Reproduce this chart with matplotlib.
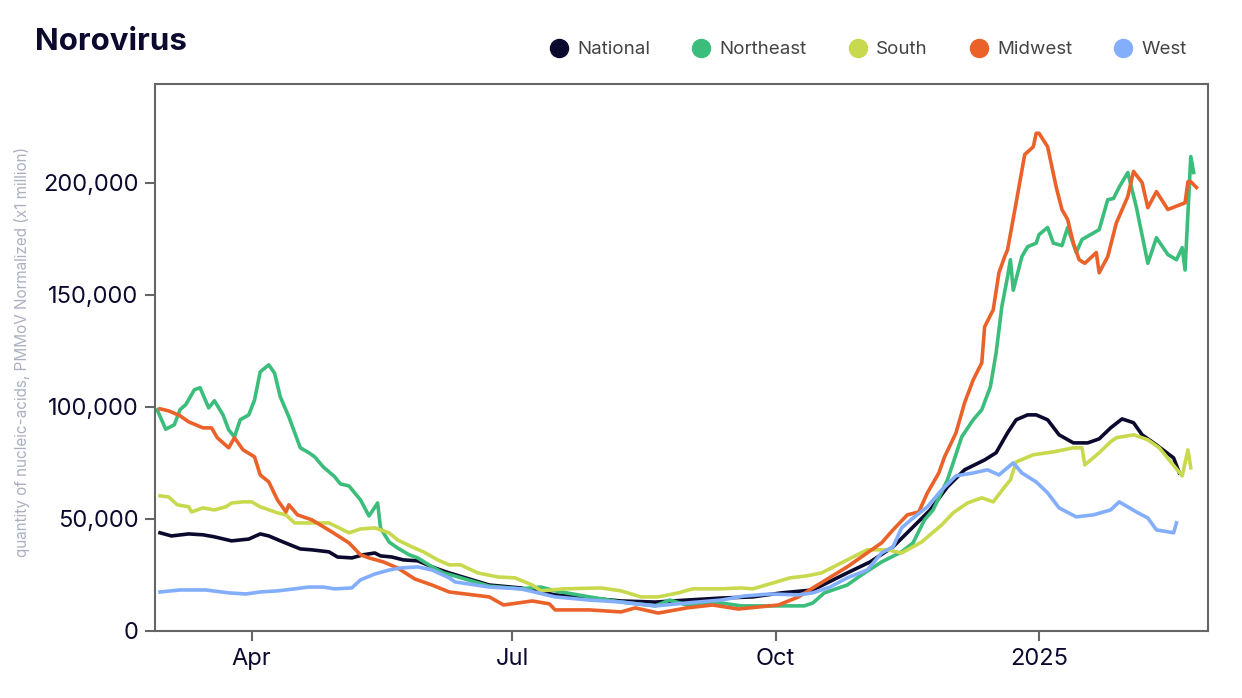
import matplotlib
matplotlib.use("Agg")
import matplotlib.pyplot as plt
import matplotlib.dates as mdates
from matplotlib.lines import Line2D
from matplotlib.ticker import FuncFormatter
import pandas as pd

# values
national_dates = ["2024-02-29", "2024-03-04", "2024-03-10", "2024-03-15", "2024-03-19", "2024-03-25",
                  "2024-03-31", "2024-04-04", "2024-04-07", "2024-04-12", "2024-04-18", "2024-04-22",
                  "2024-04-28", "2024-05-01", "2024-05-06", "2024-05-10", "2024-05-14", "2024-05-16",
                  "2024-05-20", "2024-05-24", "2024-05-29", "2024-06-04", "2024-06-09", "2024-06-23",
                  "2024-07-04", "2024-07-16", "2024-07-28", "2024-08-08", "2024-08-20", "2024-08-31",
                  "2024-09-12", "2024-09-23", "2024-10-03", "2024-10-14", "2024-10-26", "2024-11-03",
                  "2024-11-11", "2024-11-18", "2024-11-24", "2024-11-30", "2024-12-06", "2024-12-13",
                  "2024-12-17", "2024-12-21", "2024-12-24", "2024-12-28", "2024-12-31", "2025-01-04",
                  "2025-01-08", "2025-01-13", "2025-01-18", "2025-01-22", "2025-01-26", "2025-01-30",
                  "2025-02-03", "2025-02-06", "2025-02-11", "2025-02-17", "2025-02-19"]
national = [43800, 42400, 43300, 42900, 42000, 40200, 41000, 43300, 42400, 39700, 36600, 36200,
            35300, 33000, 32600, 34000, 34800, 33500, 33000, 31700, 31300, 28100, 25900, 20500,
            19200, 16100, 14700, 13400, 12900, 13800, 14700, 15200, 17000, 18300, 25900, 30800,
            37500, 46400, 54000, 64300, 71900, 76300, 79500, 88400, 94200, 96400, 96400, 94200,
            87500, 83900, 83900, 85700, 90600, 94600, 92900, 87500, 83000, 77200, 70500]

northeast_dates = ["2024-02-28", "2024-03-02", "2024-03-05", "2024-03-07", "2024-03-09", "2024-03-12",
                   "2024-03-14", "2024-03-17", "2024-03-19", "2024-03-22", "2024-03-24", "2024-03-26",
                   "2024-03-28", "2024-03-31", "2024-04-02", "2024-04-04", "2024-04-07", "2024-04-09",
                   "2024-04-11", "2024-04-14", "2024-04-18", "2024-04-21", "2024-04-23", "2024-04-26",
                   "2024-04-30", "2024-05-02", "2024-05-05", "2024-05-09", "2024-05-12", "2024-05-15",
                   "2024-05-16", "2024-05-19", "2024-05-22", "2024-05-26", "2024-05-29", "2024-06-03",
                   "2024-06-07", "2024-06-11", "2024-06-23", "2024-07-04", "2024-07-11", "2024-07-16",
                   "2024-07-28", "2024-08-08", "2024-08-20", "2024-08-25", "2024-08-31", "2024-09-12",
                   "2024-09-19", "2024-09-29", "2024-10-11", "2024-10-14", "2024-10-18", "2024-10-26",
                   "2024-10-31", "2024-11-07", "2024-11-14", "2024-11-18", "2024-11-22", "2024-11-25",
                   "2024-11-30", "2024-12-02", "2024-12-05", "2024-12-09", "2024-12-12", "2024-12-15",
                   "2024-12-17", "2024-12-19", "2024-12-21", "2024-12-22", "2024-12-23", "2024-12-26",
                   "2024-12-28", "2024-12-31", "2025-01-01", "2025-01-04", "2025-01-06", "2025-01-09",
                   "2025-01-11", "2025-01-14", "2025-01-16", "2025-01-22", "2025-01-25", "2025-01-27",
                   "2025-01-29", "2025-02-01", "2025-02-04", "2025-02-08", "2025-02-11", "2025-02-15",
                   "2025-02-18", "2025-02-20", "2025-02-21", "2025-02-23", "2025-02-24"]
northeast = [98700, 90000, 92000, 98700, 101000, 107600, 108500, 99500, 102700, 96400, 89700, 86600,
             94200, 96400, 103000, 115600, 118700, 115000, 104500, 95500, 81700, 79500, 77700, 73200,
             68800, 65600, 64700, 58500, 51300, 57100, 46000, 39700, 37000, 34000, 32600, 28600,
             25900, 24500, 20000, 18800, 19600, 17900, 15200, 12900, 11200, 13800, 11600, 12500,
             11200, 11200, 11200, 12500, 17000, 20500, 25000, 30800, 35300, 39300, 49600, 54000,
             67400, 75000, 86600, 94200, 98700, 108900, 124000, 144600, 158000, 165600, 152000, 167000,
             171400, 173000, 176800, 180000, 173000, 171900, 180000, 168800, 174600, 179000, 192400, 192900,
             198000, 204500, 189000, 164000, 175400, 167900, 165600, 171000, 161000, 211600, 204500]

south_dates = ["2024-02-29", "2024-03-03", "2024-03-06", "2024-03-10", "2024-03-11", "2024-03-15",
               "2024-03-19", "2024-03-23", "2024-03-25", "2024-03-29", "2024-04-01", "2024-04-04",
               "2024-04-10", "2024-04-13", "2024-04-16", "2024-04-21", "2024-04-28", "2024-05-05",
               "2024-05-09", "2024-05-14", "2024-05-19", "2024-05-22", "2024-05-27", "2024-05-31",
               "2024-06-05", "2024-06-09", "2024-06-13", "2024-06-19", "2024-06-26", "2024-07-02",
               "2024-07-08", "2024-07-11", "2024-07-19", "2024-08-01", "2024-08-08", "2024-08-15",
               "2024-08-21", "2024-08-28", "2024-09-02", "2024-09-12", "2024-09-19", "2024-09-23",
               "2024-09-30", "2024-10-06", "2024-10-12", "2024-10-17", "2024-10-26", "2024-11-02",
               "2024-11-09", "2024-11-14", "2024-11-21", "2024-11-28", "2024-12-02", "2024-12-07",
               "2024-12-12", "2024-12-16", "2024-12-20", "2024-12-22", "2024-12-24", "2024-12-30",
               "2025-01-06", "2025-01-13", "2025-01-16", "2025-01-17", "2025-01-22", "2025-01-26",
               "2025-01-28", "2025-02-03", "2025-02-08", "2025-02-12", "2025-02-16", "2025-02-20",
               "2025-02-22", "2025-02-23"]
south = [60300, 59800, 56300, 55400, 53100, 54900, 54000, 55400, 57100, 57600, 57600, 55400,
         52700, 51800, 48200, 48200, 48200, 43800, 45500, 46000, 43800, 40600, 37500, 35300,
         31700, 29500, 29500, 25900, 24100, 23700, 20500, 17900, 18800, 19200, 17900, 15200,
         15200, 17000, 18800, 18800, 19200, 18800, 21400, 23700, 24600, 25900, 31700, 36200,
         36200, 34800, 39700, 47300, 52700, 57100, 59400, 57600, 64300, 67400, 75400, 78600,
         79900, 81700, 81700, 74100, 79500, 84400, 86200, 87500, 85300, 81700, 75400, 69200,
         80800, 72800]

midwest_dates = ["2024-02-29", "2024-03-03", "2024-03-07", "2024-03-10", "2024-03-15", "2024-03-18",
                 "2024-03-20", "2024-03-24", "2024-03-26", "2024-03-29", "2024-04-02", "2024-04-04",
                 "2024-04-07", "2024-04-10", "2024-04-13", "2024-04-14", "2024-04-17", "2024-04-22",
                 "2024-04-29", "2024-05-05", "2024-05-09", "2024-05-12", "2024-05-17", "2024-05-22",
                 "2024-05-28", "2024-06-03", "2024-06-09", "2024-06-23", "2024-06-28", "2024-07-08",
                 "2024-07-14", "2024-07-16", "2024-07-28", "2024-08-08", "2024-08-13", "2024-08-21",
                 "2024-08-31", "2024-09-09", "2024-09-18", "2024-10-02", "2024-10-09", "2024-10-14",
                 "2024-10-26", "2024-11-07", "2024-11-11", "2024-11-16", "2024-11-20", "2024-11-23",
                 "2024-11-27", "2024-11-29", "2024-12-01", "2024-12-03", "2024-12-06", "2024-12-09",
                 "2024-12-12", "2024-12-13", "2024-12-16", "2024-12-18", "2024-12-20", "2024-12-21",
                 "2024-12-24", "2024-12-27", "2024-12-30", "2024-12-31", "2025-01-01", "2025-01-04",
                 "2025-01-07", "2025-01-09", "2025-01-11", "2025-01-13", "2025-01-15", "2025-01-17",
                 "2025-01-21", "2025-01-22", "2025-01-25", "2025-01-28", "2025-02-01", "2025-02-03",
                 "2025-02-06", "2025-02-08", "2025-02-11", "2025-02-15", "2025-02-19", "2025-02-21",
                 "2025-02-22", "2025-02-23", "2025-02-25"]
midwest = [99100, 98200, 96000, 93300, 90600, 90600, 86200, 81700, 86200, 80800, 77700, 69600,
           66500, 58500, 53100, 56300, 51800, 49600, 44200, 39300, 34000, 32600, 30800, 28100,
           23200, 20500, 17400, 15200, 11600, 13400, 12100, 9400, 9400, 8500, 10300, 8000,
           10300, 11600, 9800, 11600, 15200, 19200, 28600, 39300, 45100, 51800, 53100, 61600,
           70500, 77700, 83000, 88400, 101800, 112000, 119600, 135700, 143300, 159800, 167000, 170000,
           191000, 212500, 216000, 222000, 222000, 216000, 198000, 188000, 183500, 173000, 165600, 164000,
           168800, 159800, 167000, 182000, 193800, 205000, 200000, 188800, 196000, 188000, 190000, 191000,
           200400, 200400, 197800]

west_dates = ["2024-02-29", "2024-03-07", "2024-03-16", "2024-03-24", "2024-03-30", "2024-04-04",
              "2024-04-10", "2024-04-16", "2024-04-21", "2024-04-26", "2024-04-30", "2024-05-06",
              "2024-05-09", "2024-05-14", "2024-05-19", "2024-05-23", "2024-05-29", "2024-06-03",
              "2024-06-09", "2024-06-11", "2024-06-23", "2024-07-04", "2024-07-16", "2024-07-28",
              "2024-08-08", "2024-08-20", "2024-08-31", "2024-09-12", "2024-09-20", "2024-09-29",
              "2024-10-09", "2024-10-14", "2024-10-20", "2024-10-26", "2024-11-02", "2024-11-07",
              "2024-11-11", "2024-11-14", "2024-11-18", "2024-11-23", "2024-11-28", "2024-12-03",
              "2024-12-09", "2024-12-14", "2024-12-18", "2024-12-23", "2024-12-26", "2024-12-31",
              "2025-01-04", "2025-01-08", "2025-01-14", "2025-01-20", "2025-01-26", "2025-01-29",
              "2025-02-04", "2025-02-08", "2025-02-11", "2025-02-17", "2025-02-18"]
west = [17400, 18300, 18300, 17000, 16500, 17400, 17900, 18800, 19600, 19600, 18800, 19200,
        22800, 25400, 27200, 28100, 28600, 27200, 23700, 21900, 19600, 18800, 15200, 13800,
        12900, 11200, 12500, 13800, 15600, 16500, 16100, 17000, 19600, 23700, 27200, 34800,
        37500, 46000, 50400, 55400, 62900, 69200, 70500, 71900, 69600, 75000, 70500, 66500,
        61600, 54900, 50900, 51800, 54000, 57600, 53100, 50400, 45100, 43800, 48200]

series = [
    ("National", national_dates, national, "#0b0a2e"),
    ("Northeast", northeast_dates, northeast, "#3bbd7b"),
    ("South", south_dates, south, "#c9d94e"),
    ("Midwest", midwest_dates, midwest, "#ea6229"),
    ("West", west_dates, west, "#82aefc"),
]

plt.rcParams['font.family'] = ['Inter', 'DejaVu Sans']
navy = "#0b0a2e"
grey = "#666666"

fig = plt.figure(figsize=(12.42, 6.98), dpi=100)
ax = fig.add_axes([0.1248, 0.096, 0.8478, 0.7837])

for name, d, v, c in series:
    ax.plot(pd.to_datetime(d), v, color=c, lw=2.6, solid_joinstyle='round', label=name)

ax.set_xlim(pd.Timestamp("2024-02-27 06:00"), pd.Timestamp("2025-03-01"))
ax.set_ylim(0, 244000)
ax.set_yticks([0, 50000, 100000, 150000, 200000])
ax.yaxis.set_major_formatter(FuncFormatter(lambda v, p: f"{int(v):,}"))
ax.set_xticks(pd.to_datetime(["2024-04-01", "2024-07-01", "2024-10-01", "2025-01-01"]))
ax.set_xticklabels(["Apr", "Jul", "Oct", "2025"])

for s in ax.spines.values():
    s.set_color(grey)
    s.set_linewidth(1.5)
ax.tick_params(length=7, width=1.5, color=grey, labelcolor=navy, labelsize=17, pad=5)

ax.set_ylabel("quantity of nucleic-acids, PMMoV Normalized (x1 million)",
              color="#aab0c0", fontsize=11)
ax.yaxis.set_label_coords(-0.119, 0.51)

fig.text(0.028, 0.94, "Norovirus", fontsize=22.5, fontweight="bold", color=navy, va="center")

handles = [Line2D([], [], marker='o', ls='none', markersize=13, color=c) for _, _, _, c in series]
fig.legend(handles, [s[0] for s in series], loc='center', bbox_to_anchor=(0.699, 0.929),
           ncol=5, frameon=False, fontsize=13.5, handlelength=1.0, handletextpad=0.5,
           columnspacing=2.2, labelcolor="#444444")

fig.savefig("out.png", dpi=100)
